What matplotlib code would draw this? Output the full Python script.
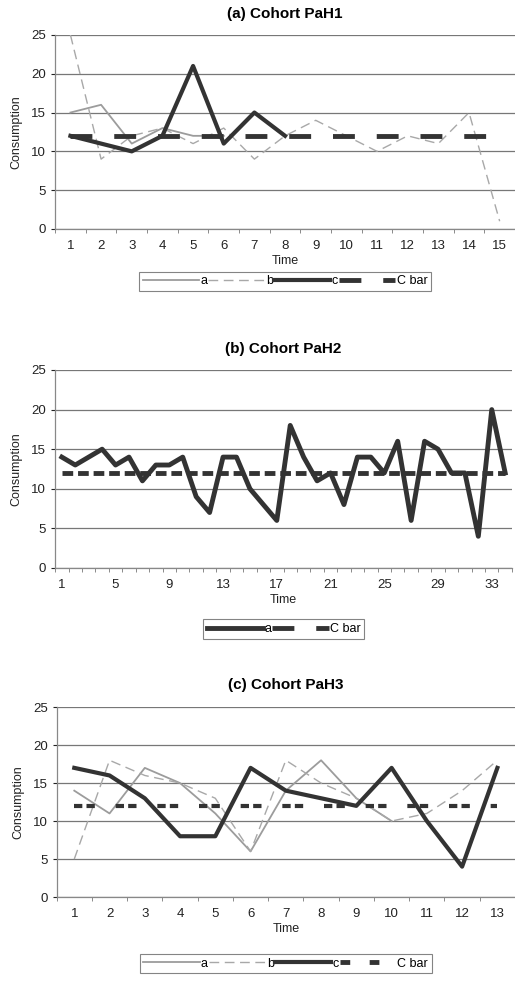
import numpy as np
import matplotlib
matplotlib.use("Agg")
import matplotlib.pyplot as plt

plt.rcParams['font.family'] = ['Liberation Sans', 'DejaVu Sans']

# (a) Cohort PaH1
pah1_time = list(range(1, 16))
pah1_a = [15, 16, 11, 13, 12, 12, np.nan, np.nan, np.nan, np.nan, np.nan, np.nan, np.nan, np.nan, np.nan]
pah1_b = [25, 9, 12, 13, 11, 13, 9, 12, 14, 12, 10, 12, 11, 15, 1]
pah1_c = [12, 11, 10, 12, 21, 11, 15, 12, np.nan, np.nan, np.nan, np.nan, np.nan, np.nan, np.nan]

# (b) Cohort PaH2
pah2_time = list(range(1, 35))
pah2_a = [14, 13, 14, 15, 13, 14, 11, 13, 13, 14, 9, 7, 14, 14, 10, 8, 6,
          18, 14, 11, 12, 8, 14, 14, 12, 16, 6, 16, 15, 12, 12, 4, 20, 12]

# (c) Cohort PaH3
pah3_time = list(range(1, 14))
pah3_a = [14, 11, 17, 15, 11, 6, 14, 18, 13, 10, np.nan, np.nan, np.nan]
pah3_b = [5, 18, 16, 15, 13, 6, 18, 15, 13, 10, 11, 14, 18]
pah3_c = [17, 16, 13, 8, 8, 17, 14, 13, 12, 17, 10, 4, 17]

c_bar = 12

GRAY_A = '#9c9c9c'
GRAY_B = '#a8a8a8'
DARK = '#333333'


def style_axes(ax, n, tick_labels):
    ax.set_xlim(0.5, n + 0.5)
    ax.set_ylim(0, 25)
    ax.set_yticks([0, 5, 10, 15, 20, 25])
    ax.set_xticks(tick_labels)
    ax.set_xticks(np.arange(0.5, n + 1, 1), minor=True)
    ax.tick_params(axis='x', which='major', length=0, labelsize=9.5, pad=8, colors='#222222')
    ax.tick_params(axis='x', which='minor', length=3, direction='out', color='#777777')
    ax.tick_params(axis='y', length=3, labelsize=9.5, colors='#222222')
    ax.grid(axis='y', color='#777777', linewidth=0.9)
    ax.set_axisbelow(True)
    for s in ['top', 'right']:
        ax.spines[s].set_visible(False)
    for s in ['left', 'bottom']:
        ax.spines[s].set_color('#888888')
        ax.spines[s].set_linewidth(0.9)
    ax.set_ylabel('Consumption', fontsize=9, color='#222222', labelpad=6)
    ax.set_xlabel('Time', fontsize=9, color='#222222', labelpad=2)


def add_legend(ax, handles, labels, y):
    leg = ax.legend(handles, labels, loc='upper center', bbox_to_anchor=(0.5, y),
                    ncol=len(handles), frameon=True, fancybox=False, fontsize=9,
                    handlelength=4.5, handletextpad=0.1, columnspacing=0.1,
                    borderpad=0.3, borderaxespad=0)
    leg.get_frame().set_edgecolor('#666666')
    leg.get_frame().set_linewidth(0.8)


fig = plt.figure(figsize=(5.15, 9.84), dpi=100)

# panel a
ax1 = fig.add_axes([0.107, 0.7673, 0.893, 0.1972])
l_a, = ax1.plot(pah1_time, pah1_a, color=GRAY_A, lw=1.3)
l_b, = ax1.plot(pah1_time, pah1_b, color=GRAY_B, lw=1.0, dashes=(7, 4))
l_c, = ax1.plot(pah1_time, pah1_c, color=DARK, lw=3)
l_cb, = ax1.plot(pah1_time, [c_bar] * len(pah1_time), color=DARK, lw=3.5, dashes=(4.5, 4.5))
style_axes(ax1, 15, pah1_time)
ax1.set_title('(a) Cohort PaH1', fontsize=11, fontweight='bold', pad=12)
add_legend(ax1, [l_a, l_b, l_c, l_cb], ['a', 'b', 'c', 'C bar'], -0.22)

# panel b
ax2 = fig.add_axes([0.107, 0.4228, 0.887, 0.2012])
m_a, = ax2.plot(pah2_time, pah2_a, color=DARK, lw=3.5)
m_cb, = ax2.plot(pah2_time, [c_bar] * len(pah2_time), color=DARK, lw=3.5, dashes=(2.2, 1))
style_axes(ax2, 34, list(range(1, 35, 4)))
ax2.set_title('(b) Cohort PaH2', fontsize=11, fontweight='bold', pad=12)
m_cb_leg = plt.Line2D([], [], color=DARK, lw=3.5, dashes=(4.5, 4.5))
add_legend(ax2, [m_a, m_cb_leg], ['a', 'C bar'], -0.26)

# panel c
ax3 = fig.add_axes([0.11, 0.0884, 0.89, 0.193])
n_a, = ax3.plot(pah3_time, pah3_a, color=GRAY_A, lw=1.3)
n_b, = ax3.plot(pah3_time, pah3_b, color=GRAY_B, lw=1.0, dashes=(7, 4))
n_c, = ax3.plot(pah3_time, pah3_c, color=DARK, lw=3)
n_cb, = ax3.plot(pah3_time, [c_bar] * len(pah3_time), color=DARK, lw=3,
                 dashes=(2, 1, 2, 5))
style_axes(ax3, 13, pah3_time)
ax3.set_title('(c) Cohort PaH3', fontsize=11, fontweight='bold', pad=13)
n_cb_leg = plt.Line2D([], [], color=DARK, lw=3.5, dashes=(2, 4))
add_legend(ax3, [n_a, n_b, n_c, n_cb_leg], ['a', 'b', 'c', 'C bar'], -0.3)

fig.savefig('out.png', dpi=100)
